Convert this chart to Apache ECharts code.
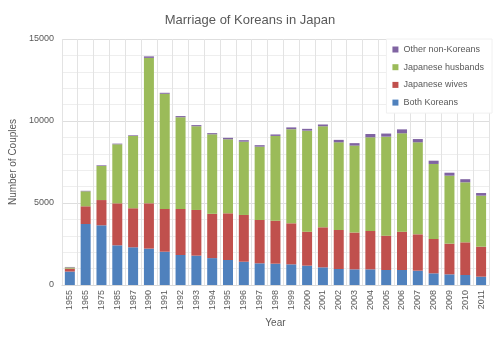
<!DOCTYPE html>
<html>
<head>
<meta charset="utf-8">
<script src="https://cdn.jsdelivr.net/npm/echarts@6/dist/echarts.min.js"></script>
<style>html,body{margin:0;padding:0;background:#fff;}#c{width:500px;height:339px;}</style>
</head>
<body>
<div id="c"></div>
<script>
const years = ['1955','1965','1975','1985','1987','1990','1991','1992','1993','1994','1995','1996','1997','1998','1999','2000','2001','2002','2003','2004','2005','2006','2007','2008','2009','2010','2011'];
const bothKoreans = [820,3720,3640,2420,2300,2220,2030,1830,1790,1640,1525,1420,1323,1300,1260,1180,1077,976,955,955,915,915,874,712,650,610,508];
const japaneseWives = [180,1080,1540,2560,2380,2760,2610,2806,2785,2700,2847,2850,2642,2623,2502,2073,2441,2379,2245,2338,2093,2338,2216,2094,1871,1992,1830];
const japaneseHusbands = [70,913,2077,3600,4408,8870,7020,5594,5105,4850,4513,4470,4471,5167,5738,6159,6160,5345,5300,5713,6037,5997,5610,4574,4146,3660,3110];
const otherNonKoreans = [30,30,40,40,40,90,60,70,70,70,90,90,90,90,110,110,110,150,150,200,190,240,200,200,180,190,160];
const yTicks = [0,5000,10000,15000];

const font = 'Liberation Sans';
const txt = '#595959';
const chart = echarts.init(document.getElementById('c'));
function s(name, data, color){
  return {name:name, type:'bar', stack:'t', data:data, barWidth:10,
    itemStyle:{color:color}, emphasis:{disabled:true}};
}
chart.setOption({
  animation:false,
  textStyle:{fontFamily:font},
  title:{text:'Marriage of Koreans in Japan', left:'center', top:9,
    textStyle:{fontFamily:font, fontSize:13, fontWeight:'normal', color:txt}},
  legend:{orient:'vertical', right:8, top:39,
    data:['Other non-Koreans','Japanese husbands','Japanese wives','Both Koreans'],
    itemWidth:6, itemHeight:6, itemGap:8.7, icon:'rect',
    backgroundColor:'#fff', borderColor:'#f0f0f0', borderWidth:1,
    padding:[6,8,6,6],
    textStyle:{fontFamily:font, fontSize:9, color:txt}},
  grid:{left:61, right:11, top:39, bottom:54},
  xAxis:{type:'category', data:years, name:'Year', nameLocation:'middle', nameGap:30,
    nameTextStyle:{fontFamily:font, fontSize:10, color:txt},
    axisLine:{lineStyle:{color:'#d9d9d9'}}, axisTick:{show:false},
    axisLabel:{rotate:90, fontSize:9, color:txt, margin:5, interval:0},
    splitLine:{show:true, lineStyle:{color:'#e3e3e3'}}},
  yAxis:{type:'value', min:yTicks[0], max:yTicks[yTicks.length-1], interval:5000,
    name:'Number of Couples', nameLocation:'middle', nameGap:34,
    nameTextStyle:{fontFamily:font, fontSize:10, color:txt},
    axisLine:{show:false}, axisTick:{show:false},
    axisLabel:{fontSize:9, color:txt, margin:8, formatter:function(v){return String(v);}},
    splitLine:{lineStyle:{color:'#dedede'}},
    minorTick:{show:false, splitNumber:5},
    minorSplitLine:{show:true, lineStyle:{color:'#eeeeee'}}},
  series:[
    s('Both Koreans', bothKoreans, '#4F81BD'),
    s('Japanese wives', japaneseWives, '#C0504D'),
    s('Japanese husbands', japaneseHusbands, '#9BBB59'),
    s('Other non-Koreans', otherNonKoreans, '#8064A2')
  ]
});
</script>
</body>
</html>
